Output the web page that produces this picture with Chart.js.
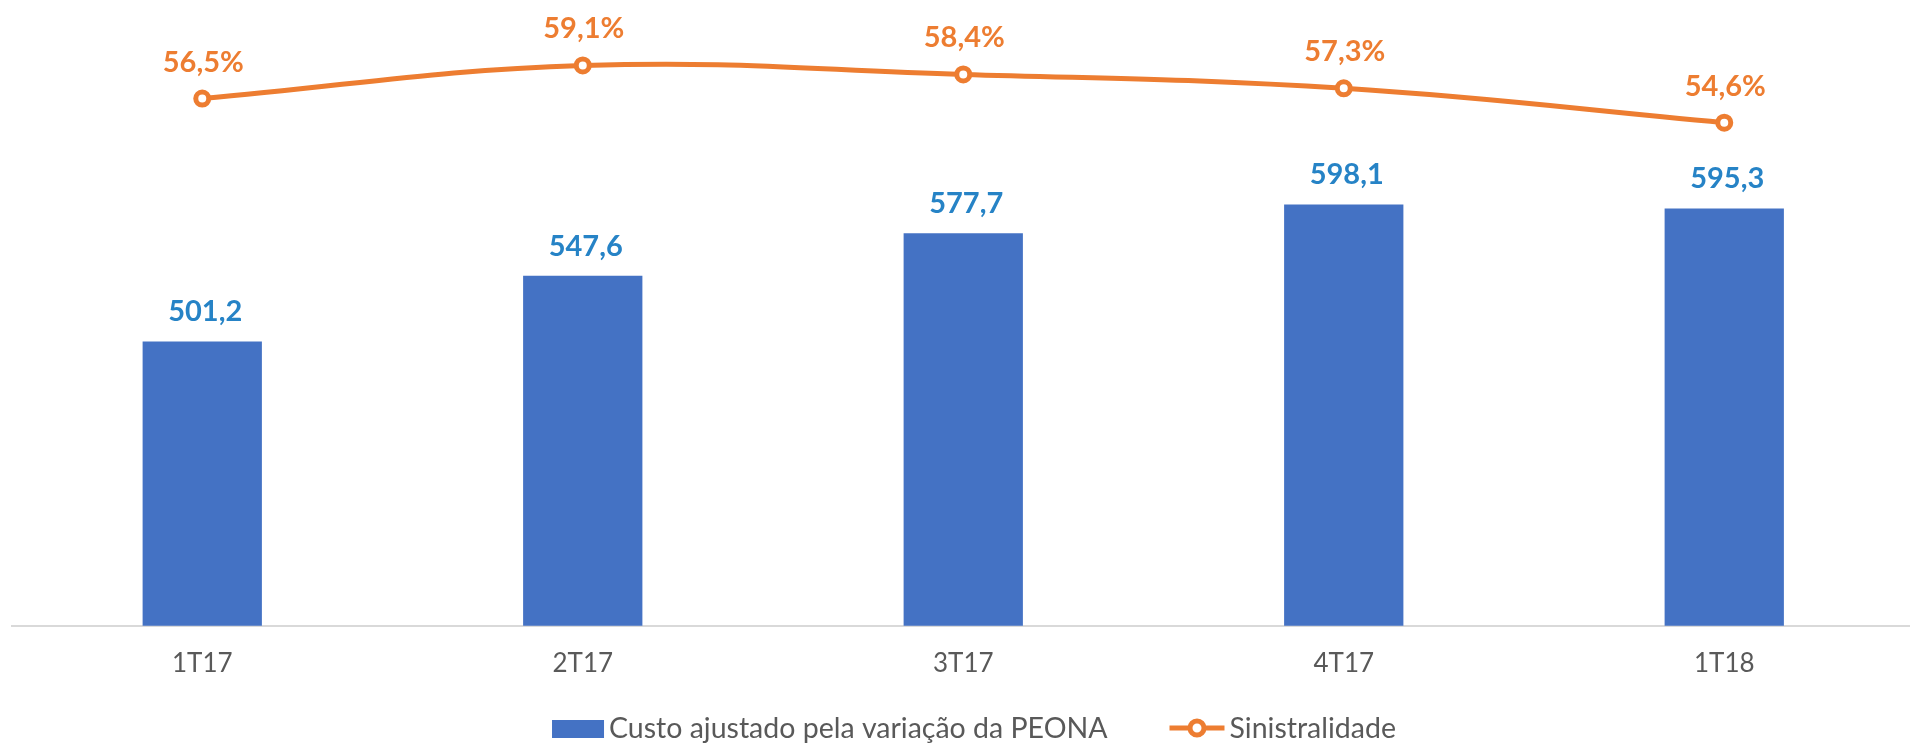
<!DOCTYPE html>
<html lang="pt">
<head>
<meta charset="utf-8">
<title>Custo ajustado e Sinistralidade</title>
<script src="https://cdn.jsdelivr.net/npm/chart.js@4/dist/chart.umd.min.js"></script>
<style>
    html, body { margin: 0; padding: 0; background: #fff; overflow: hidden; }
    /* a área do gráfico passa um pouco da janela, como no original */
    #wrap { position: relative; width: 1926px; height: 745px; }
</style>
</head>
<body>
<div id="wrap"><canvas id="grafico"></canvas></div>
<script>
// dados
const trimestres = ['1T17', '2T17', '3T17', '4T17', '1T18'];
const custoAjustado = [501.2, 547.6, 577.7, 598.1, 595.3];
const sinistralidade = [56.5, 59.1, 58.4, 57.3, 54.6];
const nomeCusto = 'Custo ajustado pela variação da PEONA';
const nomeSinistralidade = 'Sinistralidade';

const AZUL = '#4472C4';
const LARANJA = '#ED7D31';
const AZUL_ROTULO = '#2683C6';
const CINZA_TEXTO = '#595959';
const FONTE = 'Lato, "Open Sans", sans-serif';

// formato brasileiro: vírgula decimal
const fmt = v => v.toFixed(1).replace('.', ',');

// rótulos de valor e legenda desenhados à mão (sem plugin datalabels)
const rotulosPlugin = {
    id: 'rotulos',
    afterDatasetsDraw(chart) {
        const ctx = chart.ctx;
        ctx.save();
        ctx.textAlign = 'center';
        ctx.textBaseline = 'alphabetic';
        ctx.font = 'bold 29px ' + FONTE;

        // barras
        ctx.fillStyle = AZUL_ROTULO;
        chart.getDatasetMeta(0).data.forEach((bar, i) => {
            ctx.fillText(fmt(custoAjustado[i]), bar.x + 3, bar.y - 20);
        });

        // linha
        ctx.fillStyle = LARANJA;
        chart.getDatasetMeta(1).data.forEach((pt, i) => {
            ctx.fillText(fmt(sinistralidade[i]) + '%', pt.x + 1, pt.y - 27);
        });
        ctx.restore();
    },
    afterDraw(chart) {
        const ctx = chart.ctx;
        ctx.save();
        ctx.font = '28.5px ' + FONTE;
        ctx.textBaseline = 'alphabetic';
        const w1 = ctx.measureText(nomeCusto).width;
        const w2 = ctx.measureText(nomeSinistralidade).width;
        const total = 52 + 5 + w1 + 62 + 55 + 5 + w2;
        let x = 974 - total / 2;
        const base = 738;
        const meio = 728;

        // item 1: caixa azul
        ctx.fillStyle = AZUL;
        ctx.fillRect(x, 720, 52, 18);
        x += 57;
        ctx.fillStyle = CINZA_TEXTO;
        ctx.fillText(nomeCusto, x, base);
        x += w1 + 62;

        // item 2: traço com marcador
        ctx.strokeStyle = LARANJA;
        ctx.lineWidth = 5;
        ctx.beginPath();
        ctx.moveTo(x, meio);
        ctx.lineTo(x + 55, meio);
        ctx.stroke();
        ctx.beginPath();
        ctx.arc(x + 27.5, meio, 7, 0, Math.PI * 2);
        ctx.fillStyle = '#fff';
        ctx.fill();
        ctx.stroke();
        x += 60;
        ctx.fillStyle = CINZA_TEXTO;
        ctx.fillText(nomeSinistralidade, x, base);
        ctx.restore();
    }
};

const grafico = new Chart(document.getElementById('grafico'), {
    data: {
        labels: trimestres,
        datasets: [
            {
                type: 'bar',
                label: nomeCusto,
                data: custoAjustado,
                backgroundColor: AZUL,
                categoryPercentage: 1,
                barPercentage: 0.3135,
                yAxisID: 'y',
                order: 2
            },
            {
                type: 'line',
                label: nomeSinistralidade,
                data: sinistralidade,
                borderColor: LARANJA,
                borderWidth: 5,
                tension: 0.4,
                pointRadius: 6.5,
                pointBorderWidth: 5,
                pointBackgroundColor: '#fff',
                pointBorderColor: LARANJA,
                clip: false,
                yAxisID: 'y2',
                order: 1
            }
        ]
    },
    options: {
        responsive: true,
        maintainAspectRatio: false,
        animation: false,
        layout: {
            padding: { left: 12, right: 0, top: 60.4, bottom: 44 }
        },
        scales: {
            x: {
                grid: { display: false, drawTicks: false },
                border: { display: true, color: '#D9D9D9', width: 2 },
                ticks: {
                    color: CINZA_TEXTO,
                    font: { family: FONTE, size: 26 },
                    padding: 22
                }
            },
            y: {
                display: false,
                min: 300,
                max: 700
            },
            y2: {
                display: false,
                position: 'right',
                min: 15,
                max: 59.5
            }
        },
        plugins: {
            legend: { display: false },
            tooltip: { enabled: false }
        }
    },
    plugins: [rotulosPlugin]
});
</script>
</body>
</html>
